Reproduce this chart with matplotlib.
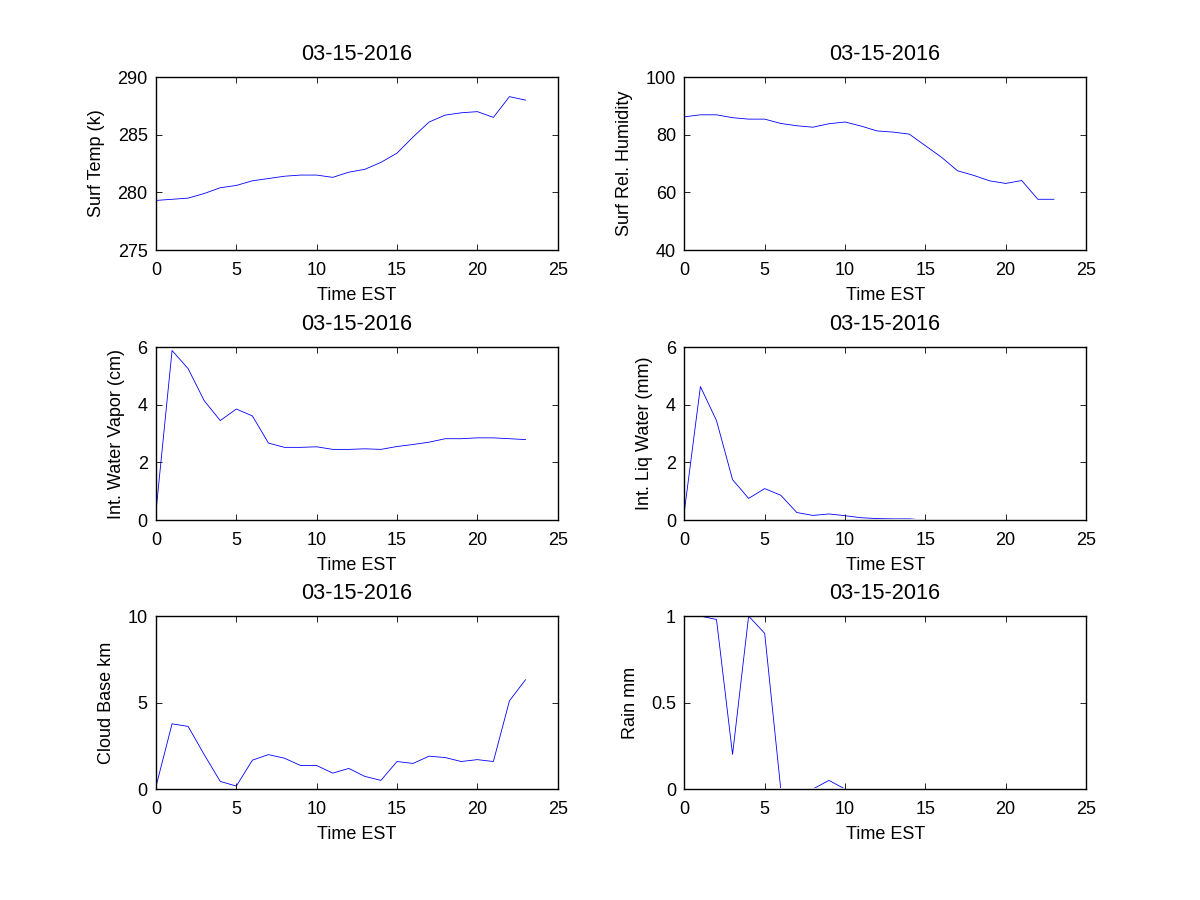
import matplotlib
matplotlib.use('Agg')
import matplotlib.pyplot as plt
from matplotlib.patches import Rectangle

plt.rcParams['font.family'] = ['Liberation Sans', 'DejaVu Sans']
plt.rcParams['font.size'] = 13

#hourly values
hours = list(range(24))
surf_temp = [279.3, 279.4, 279.5, 279.9, 280.4, 280.6, 281.0, 281.2, 281.4, 281.5, 281.5, 281.3,
             281.75, 282.0, 282.6, 283.4, 284.8, 286.1, 286.7, 286.9, 287.0, 286.5, 288.3, 288.0]
rel_hum = [86.2, 86.9, 86.9, 85.9, 85.4, 85.4, 83.9, 83.1, 82.6, 83.8, 84.4, 83.0,
           81.3, 80.9, 80.2, 76.2, 72.2, 67.5, 65.9, 64.0, 63.1, 64.1, 57.6, 57.6]
water_vapor = [0.3, 5.88, 5.25, 4.14, 3.45, 3.85, 3.61, 2.67, 2.52, 2.52, 2.54, 2.45,
               2.45, 2.47, 2.45, 2.55, 2.62, 2.70, 2.82, 2.82, 2.85, 2.85, 2.82, 2.79]
liq_water = [0.3, 4.63, 3.45, 1.40, 0.75, 1.09, 0.86, 0.26, 0.16, 0.21, 0.15, 0.08,
             0.05, 0.04, 0.04, 0, 0, 0, 0, 0, 0, 0, 0, 0]
cloud_base = [0.15, 3.77, 3.62, 1.99, 0.44, 0.17, 1.67, 1.99, 1.78, 1.36, 1.36, 0.92,
              1.19, 0.73, 0.50, 1.59, 1.48, 1.90, 1.82, 1.59, 1.70, 1.59, 5.10, 6.32]
rain = [1.0, 1.0, 0.98, 0.20, 1.0, 0.90, 0, 0, 0, 0.05, 0, 0,
        0, 0, 0, 0, 0, 0, 0, 0, 0, 0, 0, 0]

date_str = '03-15-2016'
panels = [
    (surf_temp, 'Surf Temp (k)', (275, 290), [275, 280, 285, 290]),
    (rel_hum, 'Surf Rel. Humidity', (40, 100), [40, 60, 80, 100]),
    (water_vapor, 'Int. Water Vapor (cm)', (0, 6), [0, 2, 4, 6]),
    (liq_water, 'Int. Liq Water (mm)', (0, 6), [0, 2, 4, 6]),
    (cloud_base, 'Cloud Base km', (0, 10), [0, 5, 10]),
    (rain, 'Rain mm', (0, 1), [0, 0.5, 1]),
]

fig = plt.figure(figsize=(12, 9), dpi=100)
lefts = [0.13, 0.5703]
bottoms = [0.7222, 0.4222, 0.1233]
w, h = 0.3347, 0.1922

for i, (vals, ylab, ylim, yticks) in enumerate(panels):
    ax = fig.add_axes([lefts[i % 2], bottoms[i // 2], w, h])
    line, = ax.plot(hours, vals, color='b', lw=0.6, zorder=1)
    # zero values sit under the box line like in the original
    clip = Rectangle((0, 1.1 / 173), 1, 1 - 2.2 / 173, transform=ax.transAxes,
                     fill=False, visible=False)
    ax.add_patch(clip)
    line.set_clip_path(clip)
    ax.set_xlim(0, 25)
    ax.set_ylim(*ylim)
    ax.set_xticks([0, 5, 10, 15, 20, 25])
    ax.set_yticks(yticks)
    ax.set_yticklabels(['0', '0.5', '1'] if ylim == (0, 1) else [str(t) for t in yticks])
    ax.tick_params(axis='x', direction='in', top=True, length=4, width=0.6, pad=8.5)
    ax.tick_params(axis='y', direction='in', right=True, length=4, width=0.6, pad=6)
    for s in ax.spines.values():
        s.set_linewidth(1.0)
        s.set_zorder(3)
    ax.set_title(date_str, pad=12.5)
    ax.set_xlabel('Time EST', labelpad=6)
    ax.set_ylabel(ylab, labelpad=9)

fig.savefig('out.png', dpi=100)
